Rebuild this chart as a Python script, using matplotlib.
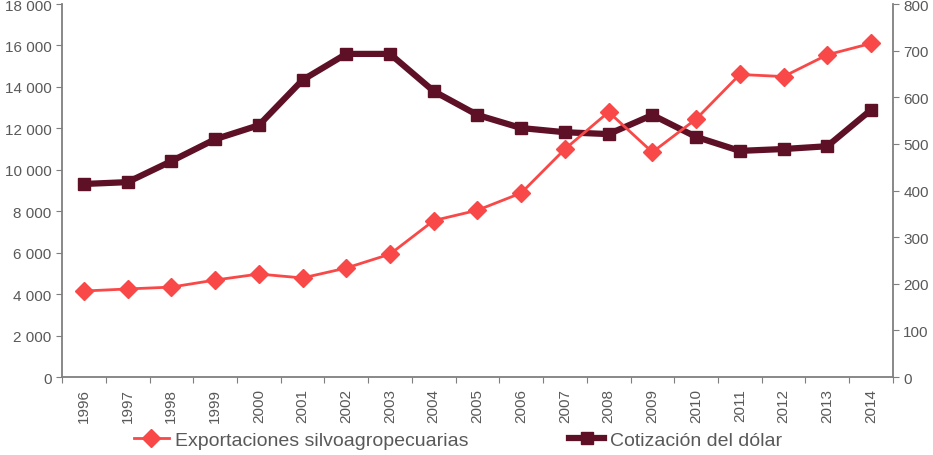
import matplotlib
matplotlib.use("Agg")
import matplotlib.pyplot as plt
from matplotlib.ticker import FuncFormatter, MultipleLocator

years = [str(y) for y in range(1996, 2015)]
exportaciones = [4150, 4250, 4340, 4680, 4970, 4780, 5260, 5930, 7550, 8050,
                 8880, 11000, 12790, 10850, 12450, 14600, 14500, 15550, 16100]
dolar = [414, 418, 463, 510, 540, 637, 693, 693, 613, 562,
         534, 525, 521, 562, 515, 485, 489, 495, 573]

red = "#F94848"
maroon = "#5E1027"
gray = "#7F7F7F"
txt = "#595959"

plt.rcParams['font.family'] = ['Liberation Sans', 'DejaVu Sans']

fig = plt.figure(figsize=(9.33, 4.56), dpi=100)
ax = fig.add_axes([0.0665, 0.171, 0.8905, 0.818])
ax2 = ax.twinx()

x = list(range(len(years)))
l1, = ax.plot(x, exportaciones, color=red, lw=2, marker="D", ms=9,
              label="Exportaciones silvoagropecuarias", zorder=3)
l2, = ax2.plot(x, dolar, color=maroon, lw=4.5, marker="s", ms=9,
               label="Cotización del dólar", zorder=2)

ax.set_xlim(-0.5, len(years) - 0.5)
ax.set_ylim(0, 18000)
ax2.set_ylim(0, 800)
ax.yaxis.set_major_locator(MultipleLocator(2000))
ax2.yaxis.set_major_locator(MultipleLocator(100))
fmt = FuncFormatter(lambda v, p: f"{int(v):,}".replace(",", " "))
ax.yaxis.set_major_formatter(fmt)

# category ticks between years, labels centred
ax.set_xticks([i - 0.5 for i in range(len(years) + 1)])
ax.set_xticklabels([])
ax.set_xticks(x, minor=True)
ax.set_xticklabels(years, minor=True, rotation=90)
ax.tick_params(axis="x", which="minor", length=0, pad=8)
ax.tick_params(axis="x", which="major", length=4, color=gray, direction="out")

for a in (ax, ax2):
    a.spines["top"].set_visible(False)
    for s in ("left", "right", "bottom"):
        a.spines[s].set_color(gray)
        a.spines[s].set_linewidth(1.3)
    a.tick_params(axis="y", length=4, color=gray, labelcolor=txt, labelsize=11)
    a.tick_params(axis="x", which="both", labelcolor=txt, labelsize=11)
ax.spines["right"].set_visible(False)
ax2.spines["left"].set_visible(False)
ax2.spines["bottom"].set_visible(False)

ax.set_zorder(ax2.get_zorder() + 1)
ax.patch.set_visible(False)

fig.legend(handles=[l1, l2], loc="center", bbox_to_anchor=(0.491, 0.032), ncol=2,
           frameon=False, fontsize=14, columnspacing=5.2, handlelength=1.8,
           handletextpad=0.3, labelcolor=txt)

fig.savefig("out.png", dpi=100)
